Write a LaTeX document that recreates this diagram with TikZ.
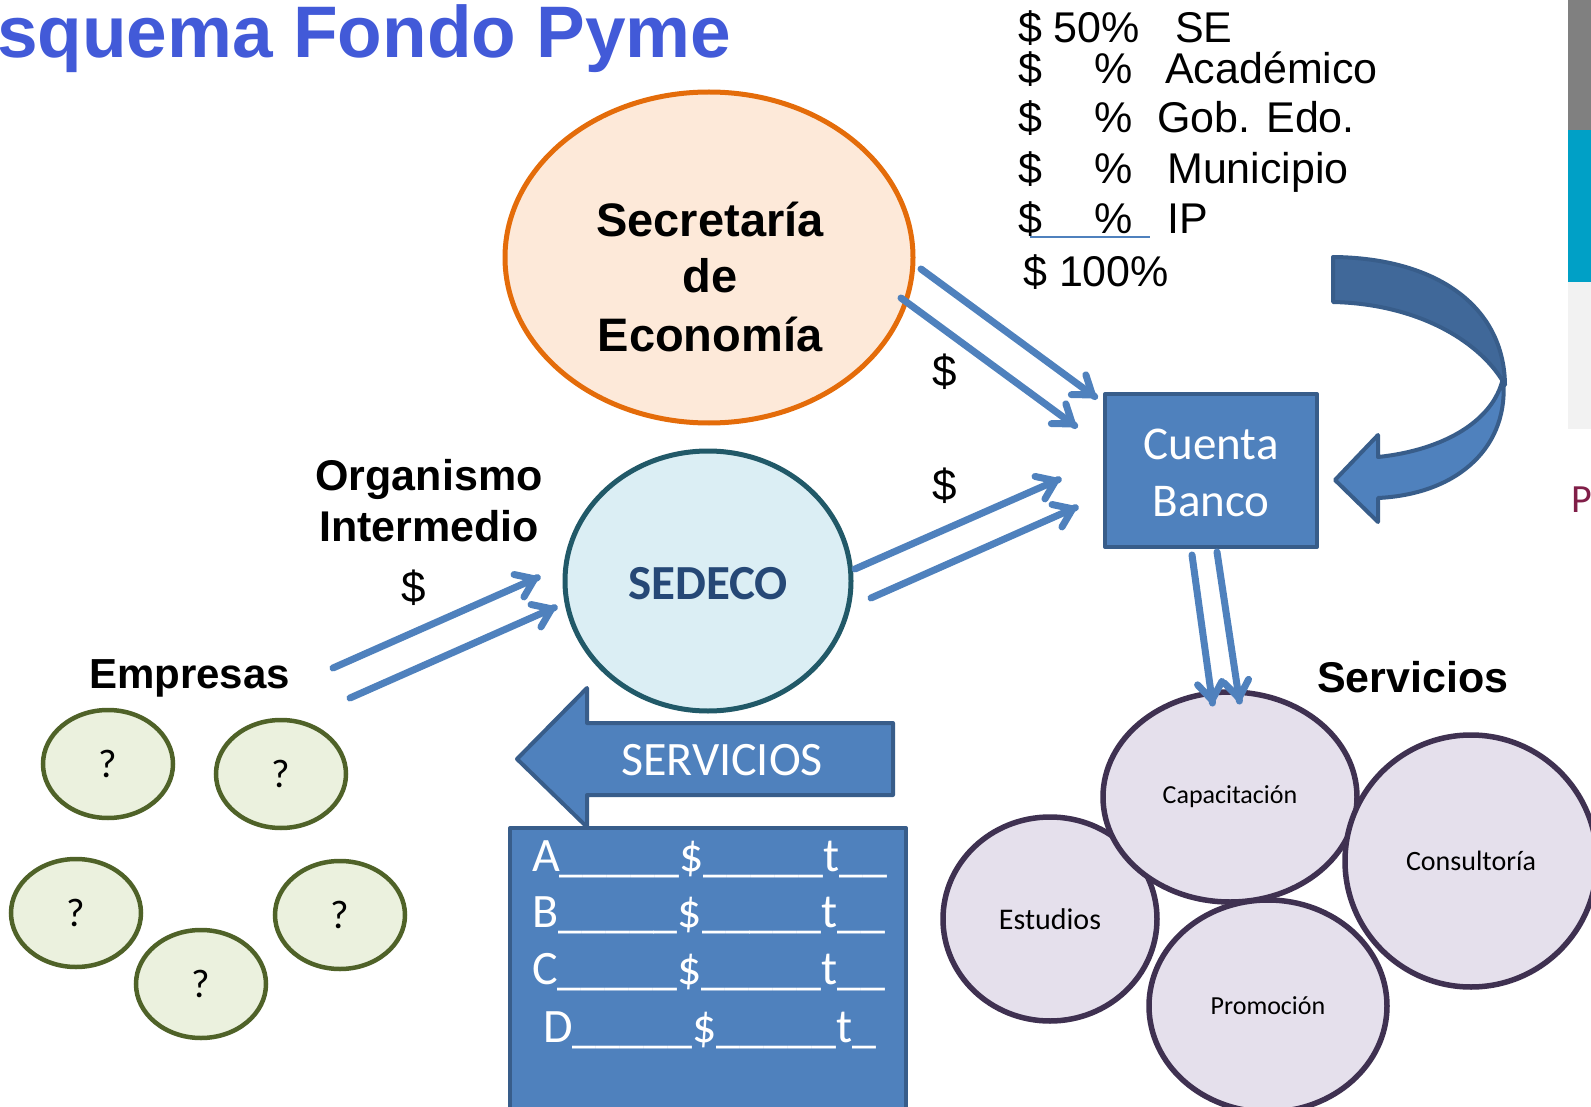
\documentclass[tikz,border=0pt]{standalone}
\usepackage{fontspec}
\setmainfont{Liberation Sans}
\newfontfamily\carlito{Carlito}
\usetikzlibrary{shapes.geometric,arrows.meta,calc}
\definecolor{titleblue}{RGB}{66,90,216}
\definecolor{peach}{RGB}{253,233,217}
\definecolor{orangeB}{RGB}{228,108,10}
\definecolor{sedfill}{RGB}{219,238,244}
\definecolor{sedline}{RGB}{33,89,104}
\definecolor{sedtext}{RGB}{38,72,118}
\definecolor{blueA}{RGB}{79,129,189}
\definecolor{blueB}{RGB}{56,93,138}
\definecolor{blueD}{RGB}{64,104,153}
\definecolor{greenF}{RGB}{235,241,222}
\definecolor{greenB}{RGB}{79,98,40}
\definecolor{purF}{RGB}{229,224,236}
\definecolor{purB}{RGB}{63,49,81}
\definecolor{stripgray}{RGB}{128,128,128}
\definecolor{stripcyan}{RGB}{0,160,198}
\definecolor{striplight}{RGB}{242,242,242}
\definecolor{maroonP}{RGB}{128,30,72}
\newcommand\myfs[1]{\fontsize{#1}{#1}\selectfont}
\newcommand\myarrow[2]{%
  \draw[arrline] (#1) -- ($(#2)!4pt!(#1)$);
  \draw[arrline, line join=miter, miter limit=10] ($(#2)!27pt!27:(#1)$) -- ($(#2)!7pt!(#1)$) -- ($(#2)!27pt!-27:(#1)$);}
\begin{document}
\begin{tikzpicture}[x=1pt,y=-1pt,
  lbl/.style={inner sep=0pt, anchor=base},
  lblw/.style={inner sep=0pt, anchor=base west},
  toptxt/.style={lblw, font=\myfs{43}},
  boldtxt/.style={lbl, font=\myfs{43}\bfseries},
  arrline/.style={draw=blueA, line width=7pt, line cap=round},
  quest/.style={ellipse, draw=greenB, fill=greenF, line width=4.5pt, minimum width=130pt, minimum height=108pt, inner sep=0pt, font=\carlito\myfs{40}},
  serv/.style={ellipse, draw=purB, fill=purF, line width=5.5pt, inner sep=0pt},
  bluebox/.style={fill=blueA, draw=blueB, line width=4pt, line join=round},
  wtxt/.style={text=white, font=\carlito\myfs{47}}
]
\useasboundingbox (0,0) rectangle (1591,1107);
\clip (0,0) rectangle (1591,1107);

% right edge strip
\fill[stripgray] (1568,0) rectangle (1591,130);
\fill[stripcyan] (1568,130) rectangle (1591,282);
\fill[striplight] (1568,282) rectangle (1591,429);
\node[lblw, text=maroonP, font=\carlito\myfs{40}] (pp) at (1571,512) {P};

% title
\node[lblw, text=titleblue, font=\myfs{73}\bfseries] (title) at (-3,58) {squema Fondo Pyme};

% top right list
\node[toptxt] (d1) at (1018,43) {\$};
\node[toptxt] (p1) at (1053,43) {50\%};
\node[toptxt] (n1) at (1175,43) {SE};
\node[toptxt] (d2) at (1018,84) {\$};
\node[toptxt] (p2) at (1094,84) {\%};
\node[toptxt] (n2) at (1165,84) {Académico};
\node[toptxt] (d3) at (1018,133) {\$};
\node[toptxt] (p3) at (1094,133) {\%};
\node[toptxt] (n3) at (1157,133) {Gob. Edo.};
\node[toptxt] (d4) at (1018,184) {\$};
\node[toptxt] (p4) at (1094,184) {\%};
\node[toptxt] (n4) at (1167,184) {Municipio};
\node[toptxt] (d5) at (1018,234) {\$};
\node[toptxt] (p5) at (1094,234) {\%};
\node[toptxt] (n5) at (1167,234) {IP};
\coordinate (ul1) at (1030,237);
\coordinate (ul2) at (1150,237);
\draw[blueA, line width=2pt] (ul1) -- (ul2);
\node[toptxt] (d6) at (1023,287) {\$ 100\%};

% Secretaria de Economia
\node[ellipse, draw=orangeB, fill=peach, line width=5pt, minimum width=408pt, minimum height=331pt, inner sep=0pt] (se) at (709,257.5) {};
\node[lbl, font=\myfs{47}\bfseries] (se1) at (710,237) {Secretaría};
\node[lbl, font=\myfs{47}\bfseries] (se2) at (710,293) {de};
\node[lbl, font=\myfs{47}\bfseries] (se3) at (710,352) {Economía};

% SEDECO
\node[ellipse, draw=sedline, fill=sedfill, line width=5pt, minimum width=286pt, minimum height=260pt, inner sep=0pt] (sed) at (708,581) {};
\node[lbl, text=sedtext, font=\carlito\myfs{49}\bfseries] (sedt) at (708,599) {SEDECO};

% Organismo Intermedio
\node[boldtxt] (oi1) at (429,490) {Organismo};
\node[boldtxt] (oi2) at (429,541) {Intermedio};
\node[lbl, font=\myfs{44}] (oid) at (414,602) {\$};

% Empresas
\node[lblw, font=\myfs{42}\bfseries] (emp) at (89,688) {Empresas};
\node[quest] (q1) at (108,764) {?};
\node[quest] (q2) at (281,774) {?};
\node[quest] (q3) at (76,913) {?};
\node[quest] (q4) at (340,915) {?};
\node[quest] (q5) at (201,984) {?};

% Cuenta Banco
\node[bluebox, draw, minimum width=212pt, minimum height=153pt, inner sep=0pt] (cb) at (1211,470.5) {};
\node[lbl, wtxt] (cb1) at (1211,459) {Cuenta};
\node[lbl, wtxt] (cb2) at (1211,516) {Banco};

% dollar labels
\node[lbl, font=\myfs{44}] (dl1) at (945,387) {\$};
\node[lbl, font=\myfs{44}] (dl2) at (945,500) {\$};

% curved arrow
\draw[bluebox] (1503,378) .. controls (1510,445) and (1460,494) .. (1378,498)
  -- (1378,522) -- (1335,480) -- (1378,435) -- (1378,457)
  .. controls (1445,450) and (1494,420) .. (1503,378) -- cycle;
\draw[bluebox, fill=blueD] (1333,257) .. controls (1435,258) and (1504,305) .. (1505,385)
  .. controls (1482,343) and (1420,304) .. (1333,302) -- cycle;

% Servicios circles
\node[lblw, font=\myfs{43}\bfseries] (servt) at (1317,692) {Servicios};
\node[serv, minimum width=214pt, minimum height=204pt, font=\carlito\myfs{30}] (est) at (1050,919) {Estudios};
\node[serv, minimum width=254pt, minimum height=210pt, font=\carlito\myfs{26}] (cap) at (1230,797) {Capacitación};
\node[serv, minimum width=238pt, minimum height=212pt, font=\carlito\myfs{26}] (pro) at (1268,1006) {Promoción};
\node[serv, minimum width=252pt, minimum height=252pt, font=\carlito\myfs{28}] (con) at (1471,861) {Consultoría};

% SERVICIOS arrow
\draw[bluebox] (517,759) -- (587,688) -- (587,723) -- (893,723) -- (893,795) -- (587,795) -- (587,827) -- cycle;
\node[lbl, wtxt, font=\carlito\myfs{48}] (servarr) at (722,775) {SERVICIOS};

% table
\draw[bluebox] (510,828) rectangle (906,1125);
\node[lblw, wtxt, font=\carlito\myfs{48}] (ra) at (532,871) {A\_\_\_\_\_\$\_\_\_\_\_t\_\_};
\node[lblw, wtxt, font=\carlito\myfs{48}] (rb) at (532,927) {B\_\_\_\_\_\$\_\_\_\_\_t\_\_};
\node[lblw, wtxt, font=\carlito\myfs{48}] (rc) at (532,984) {C\_\_\_\_\_\$\_\_\_\_\_t\_\_};
\node[lblw, wtxt, font=\carlito\myfs{48}] (rd) at (543,1042) {D\_\_\_\_\_\$\_\_\_\_\_t\_};

% arrows
\coordinate (a1s) at (333,668); \coordinate (a1t) at (541,576);
\coordinate (a2s) at (350,698); \coordinate (a2t) at (558,606);
\coordinate (b1s) at (855,569); \coordinate (b1t) at (1062,478);
\coordinate (b2s) at (871,598); \coordinate (b2t) at (1079,506);
\coordinate (c1s) at (921,269); \coordinate (c1t) at (1098,399);
\coordinate (c2s) at (901,298); \coordinate (c2t) at (1078,428);
\coordinate (d1s) at (1192,555); \coordinate (d1t) at (1213,707);
\coordinate (d2s) at (1217,552); \coordinate (d2t) at (1240,705);
\myarrow{a1s}{a1t}
\myarrow{a2s}{a2t}
\myarrow{b1s}{b1t}
\myarrow{b2s}{b2t}
\myarrow{c1s}{c1t}
\myarrow{c2s}{c2t}
\myarrow{d1s}{d1t}
\myarrow{d2s}{d2t}
\end{tikzpicture}
\end{document}
